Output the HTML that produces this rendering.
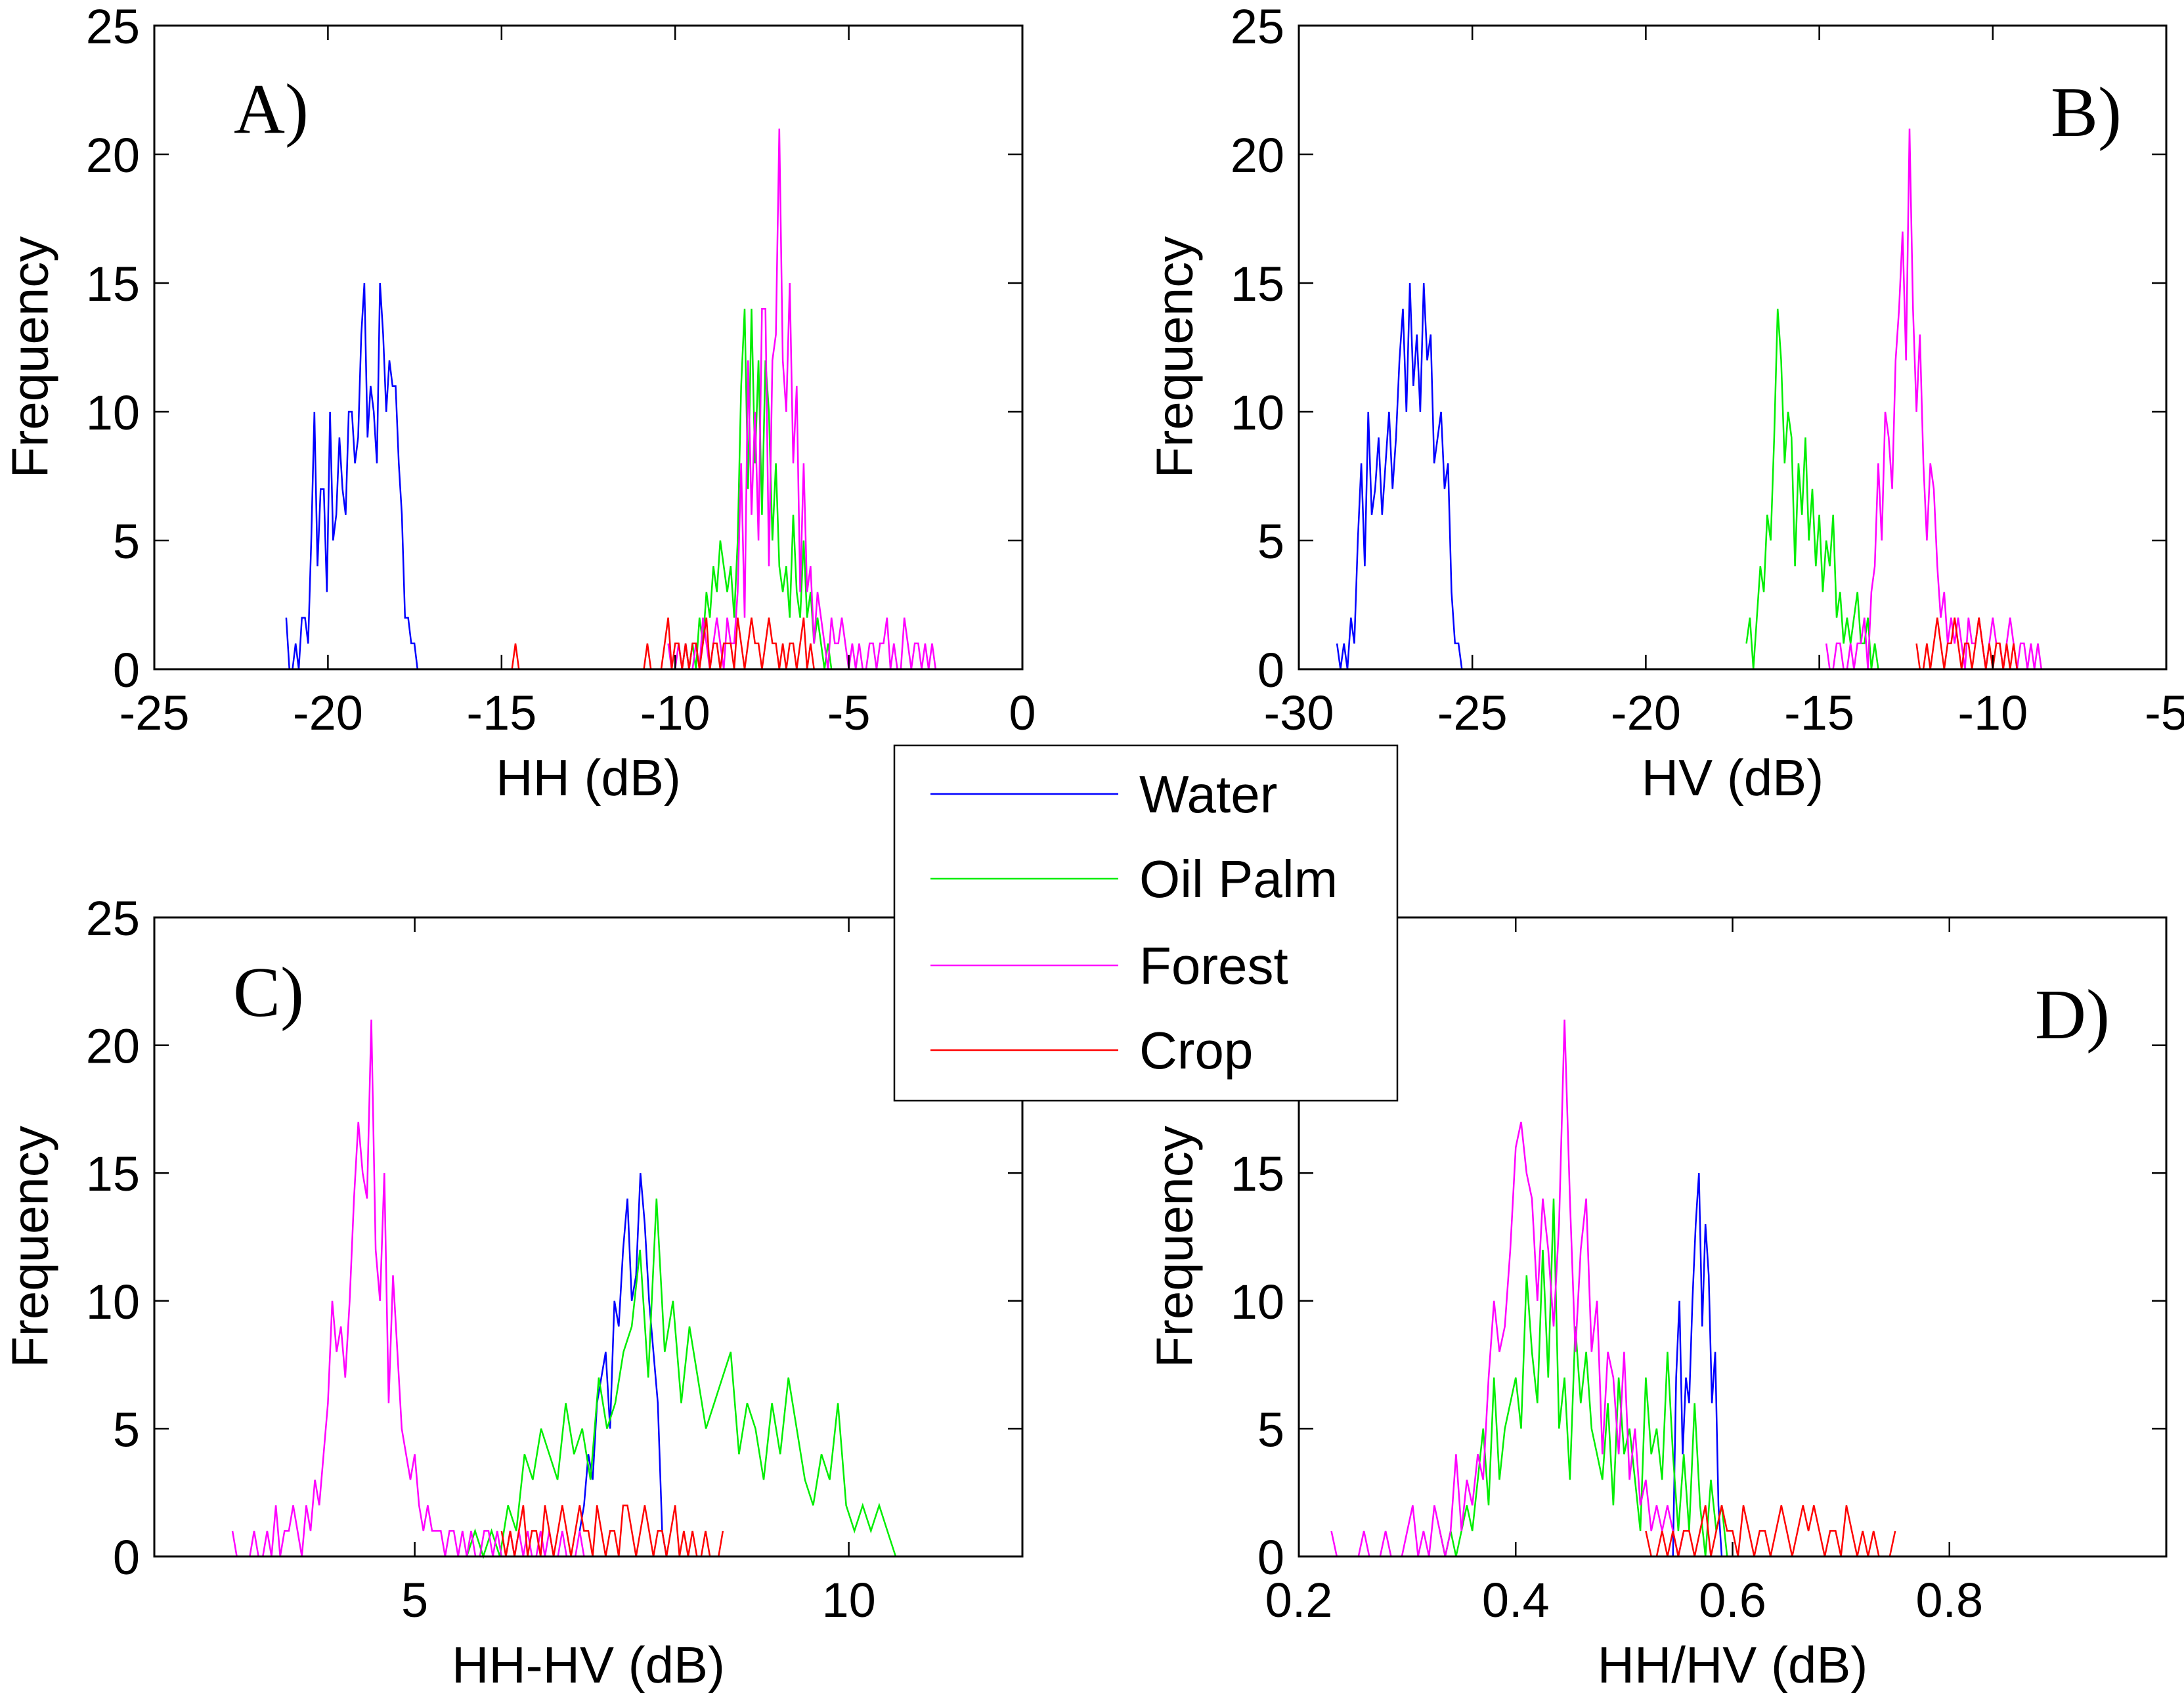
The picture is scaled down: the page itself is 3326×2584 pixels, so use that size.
<!DOCTYPE html>
<html><head><meta charset="utf-8"><style>
html,body{margin:0;padding:0;background:#fff;}
svg{display:block;}
text{font-family:"Liberation Sans",sans-serif;fill:#000;}
</style></head>
<body>
<svg id="chart" xmlns="http://www.w3.org/2000/svg" width="3326" height="2584" viewBox="0 0 3326 2584">
<rect x="0" y="0" width="3326" height="2584" fill="#fff"/>
</svg>
<script>
// ---------- data ----------
const seriesNames = ["Water", "Oil Palm", "Forest", "Crop"];
const yTickLabels = [0, 5, 10, 15, 20, 25];
const xTicksA = [-25, -20, -15, -10, -5, 0];
const xTicksB = [-30, -25, -20, -15, -10, -5];
const xTicksC = [5, 10];
const xTicksD = [0.2, 0.4, 0.6, 0.8];

// Panel A (HH) : bin start, bin width, counts
const waterA_start = -21.2, waterA_step = 0.09;
const waterA = [2,0,0,1,0,2,2,1,5,10,4,7,7,3,10,5,6,9,7,6,10,10,8,9,13,15,9,11,10,8,15,13,10,12,11,11,8,6,2,2,1,1,0];
const palmA_start = -9.8, palmA_step = 0.1;
const palmA = [0,1,0,1,0,2,1,3,2,4,3,5,4,3,4,2,5,11,14,7,14,8,12,6,12,10,5,8,4,3,4,2,6,3,2,5,2,3,1,2,1,0,1,0];
const forestA_start = -10.2, forestA_step = 0.1;
const forestA = [1,0,0,1,0,1,0,0,1,0,2,1,0, 1,2,1,0,2,1,1,3,8,2,12,6,10,5, 14,14,4,12,13,21,12,10,15,8,11,3, 8,3,4,1,3,2,1,0,2,1,1,2,1,0, 1,0,1,0,0,1,1,0,1,1,2,0,1,0,0,2,1,0,1,1,0,1,0,1,0];
const cropA_start = -14.8, cropA_step = 0.1;
const cropA = [0,0,1,0,0,0,0,0,0,0,0,0,0,0,0,0,0,0,0,0,0,0,0,0,0,0,0,0,0,0,0,0,0,0,0,0,0,0,0,0,
  1,0,0,0,0,1,2,0,1,1,0,1,0,1,1,0,1,2,0,1,1,0,1,1,1,0,2,1,0,1,2,1,1,0,1,2,1,1,0,1,0,1,1,0,1,2,0,1,0,0];

// Panel B (HV)
const waterB_start = -28.9, waterB_step = 0.1;
const waterB = [1,0,1,0,2,1,5,8,4,10,6,7,9,6,8,10,7,9,12,14,10,15,11,13,10,15,12,13,8,9,10,7,8,3,1,1,0];
const palmB_start = -17.1, palmB_step = 0.1;
const palmB = [1,2,0,2,4,3,6,5,9,14,12,8,10,9,4,8,6,9,5,7,4,6,3,5,4,6,2,3,1,2,1,2,3,1,1,2,0,1,0];
const forestB_start = -14.8, forestB_step = 0.1;
const forestB = [1,0,0,1,1,0,0,1,0,1,1,2,0,3,4,8,5,10,9,7,12,14,17,12,21,14,10,13,8,5,8,7,4,2,3,1,2,1,2,1,0,2,1,1,2,1,0,1,2,1,1,0,1,2,1,0,1,1,0,1,0,1,0];
const cropB_start = -12.2, cropB_step = 0.1;
const cropB = [1,0,0,1,0,1,2,1,0,1,1,2,1,0,1,1,0,1,2,1,0,1,0,1,1,0,1,0,1,0];

// Panel C (HH-HV)
const waterC_start = 6.9, waterC_step = 0.05;
const waterC = [1,2,4,3,6,7,8,5,10,9,12,14,10,11,15,13,10,8,6,1,0];
const palmC_start = 5.6, palmC_step = 0.095;
const palmC = [0,1,0,1,0,2,1,4,3,5,4,3,6,4,5,3,7,5,6,8,9,12,7,14,8,10,6,9,7,5,6,7,8,4,6,5,3,6,4,7,5,3,2,4,3,6,2,1,2,1,2,1,0];
const forestC_start = 2.9, forestC_step = 0.05;
const forestC = [1,0,0,0,0,1,0,0,1,0,2,0,1,1,2,1,0,2,1,3, 2,4,6,10,8,9,7,10,14,17,15,14,21,12,10,15,6,11,8,5,4,3, 4,2,1,2,1,1,1,0,1,1,0,1,0,1,0,0,1,1,0,1,0,0,1,0,1,0,1,0,0,1,0,1,0,0,1,0,0,0,1,0];
const cropC_start = 6.0, cropC_step = 0.05;
const cropC = [1,0,1,0,1,2,0,1,1,0,2,1,0,1,2,1,0,1,2,1,1,0,2,1,0,1,1,0,2,2,1,0,1,2,1,0,1,1,0,1,2,0,1,0,1,0,0,1,0,0,0,1];

// Panel D (HH/HV)
const waterD_start = 0.545, waterD_step = 0.003;
const waterD = [0,7,10,4,7,6,10,13,15,9,13,11,6,8,2,0];
const palmD_start = 0.33, palmD_step = 0.005;
const palmD = [1,0,1,0,1,2,1,3,5,2,7,3,5,6,7,5,11,8,6,12,7,14,5,7,3,9,6,8,5,4,3,6,2,7,4,5,3,1,7,4,5,3,8,4,1,4,1,6,2,0,3,1,2,0];
const forestD_start = 0.23, forestD_step = 0.005;
const forestD = [1,0,0,0,0,0,1,0,0,0,1,0,0,0,1,2,0,1,0,2, 1,0,1,4,1,3,2,4,3,7,10,8,9,12, 16,17,15,14,10,14,12,9,13,21,14,8,12,14, 8,10,4,8,7,4,8,3,5,2,3,1,2,1,2,1,0,1];
const cropD_start = 0.52, cropD_step = 0.005;
const cropD = [1,0,0,1,0,1,0,1,1,0,1,2,0,1,2,1,1,0,2,1,0,1,1,0,1,2,1,0,1,2,1,2,1,0,1,1,0,2,1,0,1,0,1,0,0,0,1];

// ---------- layout ----------
const NS = "http://www.w3.org/2000/svg";
const svg = document.getElementById("chart");
const colors = ["#0000ff", "#00ee00", "#ff00ff", "#ff0000"];
const panels = [
  {id:"a", L:235, R:1557, T:39, B:1019, xmin:-25, xmax:0, ticks:xTicksA, xlabel:"HH (dB)", letter:"A)", lx:413, ly:202,
   series:[[waterA,waterA_start,waterA_step],[palmA,palmA_start,palmA_step],[forestA,forestA_start,forestA_step],[cropA,cropA_start,cropA_step]]},
  {id:"b", L:1978, R:3299, T:39, B:1019, xmin:-30, xmax:-5, ticks:xTicksB, xlabel:"HV (dB)", letter:"B)", lx:3177, ly:207,
   series:[[waterB,waterB_start,waterB_step],[palmB,palmB_start,palmB_step],[forestB,forestB_start,forestB_step],[cropB,cropB_start,cropB_step]]},
  {id:"c", L:235, R:1557, T:1397, B:2370, xmin:2, xmax:12, ticks:xTicksC, xlabel:"HH-HV (dB)", letter:"C)", lx:409, ly:1547,
   series:[[waterC,waterC_start,waterC_step],[palmC,palmC_start,palmC_step],[forestC,forestC_start,forestC_step],[cropC,cropC_start,cropC_step]]},
  {id:"d", L:1978, R:3299, T:1397, B:2370, xmin:0.2, xmax:1.0, ticks:xTicksD, xlabel:"HH/HV (dB)", letter:"D)", lx:3156, ly:1581,
   series:[[waterD,waterD_start,waterD_step],[palmD,palmD_start,palmD_step],[forestD,forestD_start,forestD_step],[cropD,cropD_start,cropD_step]]}
];
const YMAX = 25;

function mk(tag, attrs, parent){
  const e = document.createElementNS(NS, tag);
  for (const k in attrs) e.setAttribute(k, attrs[k]);
  (parent||svg).appendChild(e);
  return e;
}

panels.forEach(p => {
  const g = mk("g", {});
  
  
  const xs = v => p.L + (v - p.xmin) / (p.xmax - p.xmin) * (p.R - p.L);
  const ys = v => p.B - v / YMAX * (p.B - p.T);

  p.series.forEach((s, si) => {
    const [vals, start, step] = s;
    const pts = vals.map((v, i) => xs(start + i * step).toFixed(1) + "," + ys(v).toFixed(1)).join(" ");
    const pl = mk("polyline", {points: pts, fill: "none", stroke: colors[si], "stroke-width": 2.5, "stroke-linejoin": "miter"}, g);
    
    
  });

  const box = mk("rect", {x:p.L, y:p.T, width:p.R-p.L, height:p.B-p.T, fill:"none", stroke:"#000", "stroke-width":3}, g);
  
  

  p.ticks.forEach(t => {
    const x = xs(t);
    mk("line", {x1:x, x2:x, y1:p.B, y2:p.B-22, stroke:"#000", "stroke-width":2.5}, g);
    mk("line", {x1:x, x2:x, y1:p.T, y2:p.T+22, stroke:"#000", "stroke-width":2.5}, g);
    const tx = mk("text", {x:x, y:p.B+92, "font-size":74, "text-anchor":"middle"}, g);
    tx.textContent = String(t);
    
    
  });
  yTickLabels.forEach(t => {
    const y = ys(t);
    mk("line", {x1:p.L, x2:p.L+22, y1:y, y2:y, stroke:"#000", "stroke-width":2.5}, g);
    mk("line", {x1:p.R, x2:p.R-22, y1:y, y2:y, stroke:"#000", "stroke-width":2.5}, g);
    const ty = mk("text", {x:p.L-22, y:y+27, "font-size":74, "text-anchor":"end"}, g);
    ty.textContent = String(t);
    
    
  });
  const xl = mk("text", {x:(p.L+p.R)/2, y:p.B+192, "font-size":78, "text-anchor":"middle"}, g);
  xl.textContent = p.xlabel;
  
  
  const cx = p.L - 190, cy = (p.T + p.B) / 2 + 15;
  const yl = mk("text", {x:cx, y:cy, "font-size":78, "text-anchor":"middle", transform:"rotate(-90 "+cx+" "+cy+")", dy:"0.35em"}, g);
  yl.textContent = "Frequency";
  
  
  const lt = mk("text", {x:p.lx, y:p.ly, "font-size":108, "text-anchor":"middle", style:"font-family:'Liberation Serif',serif"}, g);
  lt.textContent = p.letter;
  
  
});

const lg = mk("g", {});


mk("rect", {x:1362, y:1135, width:766, height:541, fill:"#fff", stroke:"#000", "stroke-width":2.5}, lg);
const legendY = [1209, 1338, 1470, 1599];
seriesNames.forEach((n, i) => {
  const ln = mk("line", {x1:1417, x2:1703, y1:legendY[i], y2:legendY[i], stroke:colors[i], "stroke-width":2.5}, lg);
  
  
  const t = mk("text", {x:1735, y:legendY[i]+28, "font-size":80}, lg);
  t.textContent = n;
  
  
});
</script>
</body></html>
